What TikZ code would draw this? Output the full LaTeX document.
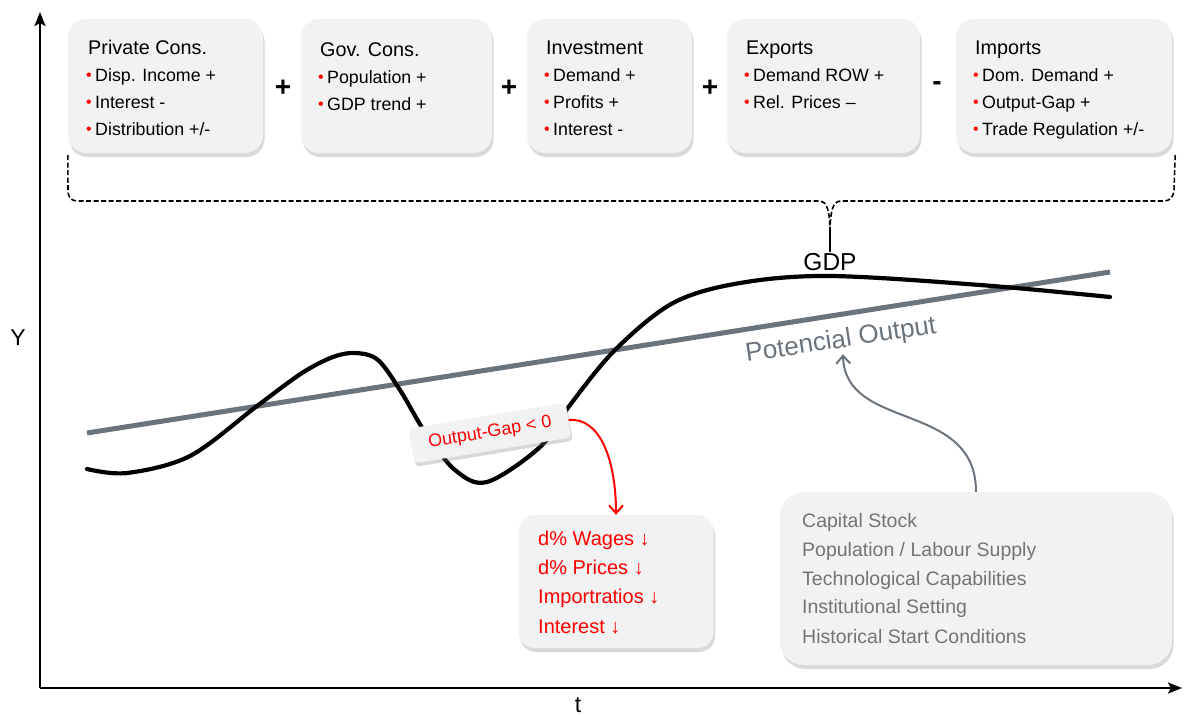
\documentclass[tikz,border=0pt]{standalone}
\usepackage{fontspec}
\setmainfont{Liberation Sans}
\usetikzlibrary{arrows.meta,shadows}

\definecolor{boxfill}{HTML}{F2F2F2}
\definecolor{slate}{HTML}{6B737C}
\definecolor{condtext}{HTML}{747474}
\definecolor{effred}{HTML}{FF0000}

% small red bullet in front of each determinant
\newcommand\redbul{\makebox[9pt][l]{\textcolor{effred}{\fontsize{16}{16}\selectfont\raisebox{0.5pt}{•}}}}

\tikzset{
  panel/.style={rectangle, rounded corners=18pt, fill=boxfill, draw=none, inner sep=0pt,
    drop shadow={shadow xshift=1.5pt, shadow yshift=-4pt, opacity=0.3}},
  titletext/.style={anchor=base west, inner sep=0pt, font=\fontsize{19.8}{24}\selectfont},
  itemtext/.style={anchor=base west, inner sep=0pt, font=\fontsize{17.8}{22}\selectfont},
  optext/.style={inner sep=0pt, font=\fontsize{28}{28}\selectfont\bfseries},
  axis/.style={line width=2.4pt, -{Stealth[length=14pt,width=11pt,inset=3pt]}},
  bracepath/.style={line width=1.6pt, dash pattern=on 5pt off 2.5pt},
  gdpline/.style={line width=4.2pt, black, line cap=round},
  potline/.style={line width=5pt, slate},
  redtext/.style={anchor=base west, inner sep=0pt, text=effred, font=\fontsize{20}{24}\selectfont},
  condline/.style={anchor=base west, inner sep=0pt, text=condtext, font=\fontsize{19.5}{24}\selectfont},
}

\begin{document}
\begin{tikzpicture}[x=1pt,y=-1pt]
\useasboundingbox (0,0) rectangle (1186,715);

% axes
\coordinate (origin) at (40,688);
\coordinate (ytip) at (40,12);
\coordinate (xtip) at (1182,688);
\draw[axis] (origin) -- (ytip);
\draw[axis] (origin) -- (xtip);
\node[font=\fontsize{23}{23}\selectfont] (ylab) at (18,338) {Y};
\node[font=\fontsize{23}{23}\selectfont] (tlab) at (578,705) {t};

% demand components
\node[panel, minimum width=195pt, minimum height=134pt] (pc)  at (165.5,86) {};
\node[panel, minimum width=191pt, minimum height=134pt] (gc)  at (396.5,86) {};
\node[panel, minimum width=165pt, minimum height=134pt] (inv) at (609.5,86) {};
\node[panel, minimum width=193pt, minimum height=134pt] (exp) at (823.5,86) {};
\node[panel, minimum width=216pt, minimum height=134pt] (imp) at (1064,86) {};

\node[titletext] (pct) at (88,54) {Private Cons.};
\node[itemtext] (pc1) at (86,81) {\redbul Disp. Income +};
\node[itemtext] (pc2) at (86,108) {\redbul Interest -};
\node[itemtext] (pc3) at (86,135) {\redbul Distribution +/-};

\node[titletext] (gct) at (320,56) {Gov. Cons.};
\node[itemtext] (gc1) at (318,83) {\redbul Population +};
\node[itemtext] (gc2) at (318,110) {\redbul GDP trend +};

\node[titletext] (invt) at (546,54) {Investment};
\node[itemtext] (inv1) at (544,81) {\redbul Demand +};
\node[itemtext] (inv2) at (544,108) {\redbul Profits +};
\node[itemtext] (inv3) at (544,135) {\redbul Interest -};

\node[titletext] (expt) at (746,54) {Exports};
\node[itemtext] (exp1) at (744,81) {\redbul Demand ROW +};
\node[itemtext] (exp2) at (744,108) {\redbul Rel. Prices –};

\node[titletext] (impt) at (975,54) {Imports};
\node[itemtext] (imp1) at (973,81) {\redbul Dom. Demand +};
\node[itemtext] (imp2) at (973,108) {\redbul Output-Gap +};
\node[itemtext] (imp3) at (973,135) {\redbul Trade Regulation +/-};

\node[optext] (op1) at (283,88) {+};
\node[optext] (op2) at (509,88) {+};
\node[optext] (op3) at (710,88) {+};
\node[optext] (op4) at (937,86) {-};

% brace gathering the components into GDP
\node[font=\fontsize{24.5}{24.5}\selectfont, inner sep=1pt] (gdp) at (830,262) {GDP};
\coordinate (btip) at (830,228);
\draw[bracepath] (pc.south west) ++(0,2) -- (68,190) .. controls (68,198) and (71,201) .. (78,201)
  -- (818,201) .. controls (826,201) and (829,206) .. (btip);
\draw[bracepath] (imp.south east) ++(3,2) -- (1174,190) .. controls (1173,198) and (1170,201) .. (1163,201)
  -- (842,201) .. controls (834,201) and (831,206) .. (btip);
\draw[line width=1.6pt] (btip) -- (gdp.north);

% potential output trend
\coordinate (p0) at (87,433);
\coordinate (p1) at (1110,272);
\draw[potline] (p0) -- (p1);
\node[text=slate, rotate=8.5, font=\fontsize{26}{26}\selectfont, inner sep=1pt] (pot) at (841,341) {Potencial Output};

% GDP path
\draw[gdpline] plot[smooth, tension=0.55] coordinates {
  (87,469) (127,473) (190,456) (257,406) (302,373) (333,357) (356,353) (378,360)
  (400,390) (425,432) (455,470) (487,482) (540,447) (570,405) (615,350) (673,303)
  (740,283) (830,276) (980,285) (1110,297)};

% output gap and its effects
\node[rectangle, rounded corners=4pt, fill=boxfill, rotate=9.4, minimum width=159pt, minimum height=35pt,
  inner sep=0pt, text=effred, font=\fontsize{18}{18}\selectfont,
  drop shadow={shadow xshift=1.5pt, shadow yshift=-3.5pt, opacity=0.3}] (og) at (490,433) {Output-Gap < 0};

\node[panel, rounded corners=16pt, minimum width=195pt, minimum height=133pt] (eff) at (616,581.5) {};
\node[redtext] (e1) at (538,545) {d\% Wages ↓};
\node[redtext] (e2) at (538,574) {d\% Prices ↓};
\node[redtext] (e3) at (538,603) {Importratios ↓};
\node[redtext] (e4) at (538,633) {Interest ↓};

\draw[effred, line width=2pt, -{Straight Barb[length=8pt,width=14pt]}]
  (og.east) .. controls (600,417) and (616,460) .. (eff.north);

% determinants of potential output
\node[panel, rounded corners=24pt, minimum width=392pt, minimum height=173pt] (cond) at (976,578.5) {};
\node[condline] (c1) at (802,527) {Capital Stock};
\node[condline] (c2) at (802,556) {Population / Labour Supply};
\node[condline] (c3) at (802,585) {Technological Capabilities};
\node[condline] (c4) at (802,613) {Institutional Setting};
\node[condline] (c5) at (802,643) {Historical Start Conditions};

\draw[slate, line width=2pt, -{Straight Barb[length=8pt,width=14pt]}]
  (cond.north) .. controls (976,400) and (845,432) .. (pot.south);
\end{tikzpicture}
\end{document}
